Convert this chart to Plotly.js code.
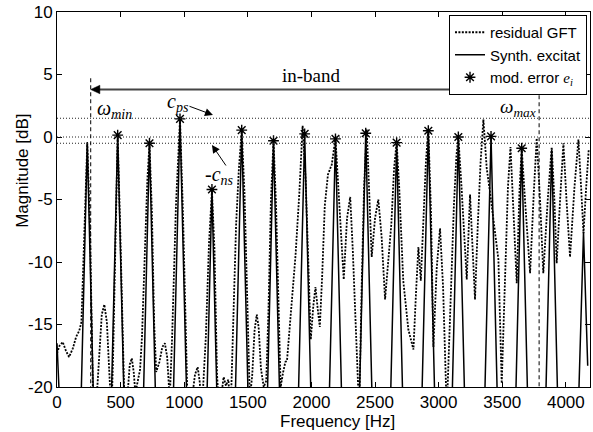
<!DOCTYPE html>
<html>
<head>
<meta charset="utf-8">
<script src="https://cdn.plot.ly/plotly-3.0.1.min.js"></script>
<style>
  html, body { margin: 0; padding: 0; background: #fff; }
  #chart { width: 593px; height: 432px; }
</style>
</head>
<body>
<div id="chart"></div>
<script>
// ---- data ----
const residualFreq = [0,20,45,70,95,125,150,175,192,215,238,260,285,305,330,352,372,392,412,428,440,458,477,496,518,532,552,572,588,603,616,634,653,668,690,710,727,746,764,780,805,828,848,866,886,905,935,967,990,1012,1028,1060,1085,1106,1122,1138,1170,1195,1218,1238,1258,1275,1292,1310,1328,1347,1365,1378,1392,1408,1430,1452,1474,1500,1516,1535,1553,1570,1585,1603,1625,1645,1662,1682,1702,1722,1742,1758,1778,1795,1808,1840,1875,1905,1931,1955,1975,1995,2015,2032,2050,2066,2085,2105,2130,2160,2189,2210,2235,2254,2280,2305,2325,2345,2360,2375,2395,2414,2435,2455,2474,2500,2526,2552,2579,2605,2628,2650,2670,2690,2722,2762,2802,2822,2841,2860,2880,2900,2919,2940,2959,2985,3011,3035,3064,3092,3120,3140,3155,3180,3205,3221,3247,3265,3286,3308,3330,3352,3378,3405,3438,3470,3496,3520,3545,3565,3588,3614,3635,3653,3682,3719,3748,3771,3797,3823,3858,3889,3910,3928,3955,3981,4005,4033,4068,4099,4120,4139,4160,4180];
const residualDb = [-17.3,-16.7,-16.4,-17.1,-17.6,-16.9,-16.0,-15.5,-14.8,-7,-0.5,-7.5,-22,-22,-17.5,-14.2,-13.4,-14.8,-19,-22,-18,-8,0.1,-7,-17,-22,-21,-18.2,-17.7,-18.8,-20.5,-19.4,-18.6,-16,-9,-3.5,-0.5,-6,-15,-18.8,-18,-16.8,-16.5,-17.6,-21,-16,-5.5,1.4,-6,-16,-22,-21,-19,-18.4,-19.6,-22,-16,-8.5,-4.3,-9,-19,-22,-20.5,-19.2,-19.9,-19.4,-22,-18,-13,-7,-2.5,0.5,-4.5,-14,-21,-19,-15.5,-14.2,-15.2,-18.5,-20,-19.5,-14,-5,-0.3,-5.5,-15,-20,-18.8,-18,-17.9,-14,-9.5,-4.5,0.9,-3.5,-10,-16.2,-13.5,-12,-13.8,-15.2,-11,-5.5,-3,-2.2,-0.1,-4,-8.5,-11.4,-6.5,-4.8,-9,-15,-19,-22,-12,-4,0.6,-4,-9.6,-6.5,-5,-8,-13,-9.8,-7,-2.5,-0.4,-4,-11.5,-15.4,-17,-12.5,-8.8,-11.5,-7,-2,0.6,-6,-16.8,-10.5,-7.3,-12,-22,-13,-5.5,-1.5,0,-4,-8.5,-11.4,-4.6,-8,-13,-7,-2,1.4,-2.5,-4.5,-7,-9.8,-19.7,-11,-4,-0.8,-5.5,-11.7,-4.5,-0.9,-5.5,-10.9,-4.5,-0.1,-5,-10.9,-5,-0.8,-5,-10.1,-5,-0.5,-5,-9.6,-4,-0.2,-4,-7.7,-4,-1];

const synthFreq = [0,58,168,238,308,406,477,548,658,727,796,893,967,1041,1157,1218,1279,1380,1452,1524,1632,1702,1772,1876,1947,2018,2119,2189,2259,2356,2427,2498,2601,2670,2739,2847,2919,2991,3085,3155,3226,3341,3412,3483,3585,3653,3721,3821,3889,3957,4075,4139,4172];
const synthDb = [-16.5,-30,-30,-0.4,-30,-30,0.15,-30,-30,-0.5,-30,-30,1.45,-30,-30,-4.2,-30,-30,0.55,-30,-30,-0.3,-30,-30,0.25,-30,-30,-0.15,-30,-30,0.3,-30,-30,-0.45,-30,-30,0.5,-30,-30,0.0,-30,-30,0.05,-30,-30,-0.9,-30,-30,-1.0,-30,-30,-7.6,-18.3];

const errFreq = [477,727,967,1218,1452,1702,1947,2189,2427,2670,2919,3155,3412,3653];
const errDb = [0.15,-0.5,1.45,-4.2,0.55,-0.3,0.25,-0.15,0.3,-0.45,0.5,0.0,0.05,-0.9];

const bandEdges = [265, 3790];   // omega_min, omega_max [Hz]
const bandArrowDb = 3.8;         // level of the in-band arrow [dB]
const cPs = 1.5;                 // c_ps [dB]
const cNs = 0.5;                 // c_ns [dB]

const xTickVals = [0,500,1000,1500,2000,2500,3000,3500,4000];
const xTickText = ['0','500','1000','1500','2000','2500','3000','3500','4000'];
const yTickVals = [-20,-15,-10,-5,0,5,10];
const yTickText = ['-20','-15','-10','-5','0','5','10'];

// ---- chart ----
const SANS = 'Liberation Sans, Arial, sans-serif';
const SERIF = 'Liberation Serif, Times New Roman, serif';
const xMax = 4190;

const traces = [
  { x: synthFreq, y: synthDb, type: 'scatter', mode: 'lines', name: 'Synth. excitat',
    line: { color: '#000', width: 1.5 }, legendrank: 2 },
  { x: residualFreq, y: residualDb, type: 'scatter', mode: 'lines', name: 'residual GFT',
    line: { color: '#000', width: 1.8, dash: '2px,1.4px' }, legendrank: 1 },
  { x: errFreq, y: errDb, type: 'scatter', mode: 'markers',
    name: 'mod. error <span style="font-family:Liberation Serif"><i>e<sub>i</sub></i></span>',
    marker: { symbol: 'asterisk-open', size: 9, color: '#000', line: { color: '#000', width: 1.4 } },
    legendrank: 3 }
];

const hLine = (y) => ({ type: 'line', xref: 'x', yref: 'y', x0: 0, x1: xMax, y0: y, y1: y,
  line: { color: '#222', width: 1, dash: '1px,2px' } });

// arrowhead triangles for the in-band double arrow (length in Hz, half-height in dB)
const headLen = 72, headHalf = 0.34;
const tri = (xTip, dir) => {
  const xb = xTip + dir * headLen;
  return { type: 'path', xref: 'x', yref: 'y',
    path: 'M' + xTip + ',' + bandArrowDb + ' L' + xb + ',' + (bandArrowDb + headHalf) +
          ' L' + xb + ',' + (bandArrowDb - headHalf) + ' Z',
    fillcolor: '#000', line: { color: '#000', width: 0.5 } };
};

const shapes = [
  hLine(cPs), hLine(0), hLine(-cNs),
  { type: 'line', xref: 'x', yref: 'y', x0: bandEdges[0], x1: bandEdges[0], y0: 4.7, y1: -20,
    line: { color: '#000', width: 1, dash: '4px,3px' } },
  { type: 'line', xref: 'x', yref: 'y', x0: bandEdges[1], x1: bandEdges[1], y0: 3.9, y1: -20,
    line: { color: '#000', width: 1, dash: '4px,3px' } },
  { type: 'line', xref: 'x', yref: 'y', x0: bandEdges[0] + headLen * 0.5, x1: bandEdges[1] - headLen * 0.5,
    y0: bandArrowDb, y1: bandArrowDb, line: { color: '#444', width: 1.8 } },
  tri(bandEdges[0], 1), tri(bandEdges[1], -1)
];

const serif = (s) => ({ family: SERIF, size: s, color: '#000' });

const annotations = [
  { xref: 'x', yref: 'y', x: 2000, y: 4.9, text: 'in-band', showarrow: false, font: serif(19) },
  { xref: 'x', yref: 'y', x: 300, y: 2.2, xanchor: 'left', yanchor: 'middle',
    text: '<i>ω<sub>min</sub></i>', showarrow: false, font: serif(20) },
  { xref: 'x', yref: 'y', x: 3781, y: 2.3, xanchor: 'right', yanchor: 'middle',
    text: '<i>ω<sub>max</sub></i>', showarrow: false, font: serif(19) },
  { xref: 'x', yref: 'y', x: 1226, y: 1.76, ax: 951, ay: 2.8, axref: 'x', ayref: 'y',
    text: '<i>c<sub>ps</sub></i>', font: serif(20), borderpad: 0,
    showarrow: true, arrowhead: 2, arrowsize: 1.6, arrowwidth: 1, arrowcolor: '#000', standoff: 0 },
  { xref: 'x', yref: 'y', x: 1148, y: -3.04, xanchor: 'left', yanchor: 'middle',
    text: '-<i>c<sub>ns</sub></i>', font: serif(20), showarrow: false },
  { xref: 'x', yref: 'y', x: 1218, y: -0.64, ax: 1336, ay: -2.4, axref: 'x', ayref: 'y',
    text: '', showarrow: true, arrowhead: 2, arrowsize: 1.6, arrowwidth: 1, arrowcolor: '#000', standoff: 0 },
  { xref: 'paper', yref: 'paper', x: 0.527, y: -0.0907, xanchor: 'center', yanchor: 'middle',
    text: 'Frequency [Hz]', showarrow: false, borderpad: 0, font: { family: SANS, size: 17, color: '#000' } },
  { xref: 'paper', yref: 'paper', x: -0.066, y: 0.576, xanchor: 'center', yanchor: 'middle', textangle: -90,
    text: 'Magnitude [dB]', showarrow: false, font: { family: SANS, size: 17, color: '#000' } }
];

const axisCommon = {
  showline: true, linecolor: '#000', linewidth: 1, mirror: 'ticks',
  ticks: 'inside', ticklen: 5, tickcolor: '#000', tickwidth: 1,
  showgrid: false, zeroline: false, tickfont: { family: SANS, size: 17, color: '#000' },
  tickmode: 'array'
};

const layout = {
  width: 593, height: 432,
  margin: { l: 57, r: 3, t: 12, b: 45 },
  paper_bgcolor: '#fff', plot_bgcolor: '#fff',
  font: { family: SANS, size: 15, color: '#000' },
  xaxis: Object.assign({}, axisCommon, { range: [0, xMax], tickvals: xTickVals, ticktext: xTickText }),
  yaxis: Object.assign({}, axisCommon, { range: [-20, 10], tickvals: yTickVals, ticktext: yTickText }),
  showlegend: true,
  legend: {
    x: 0.9944, y: 0.992, xanchor: 'right', yanchor: 'top',
    bgcolor: '#fff', bordercolor: '#000', borderwidth: 1,
    font: { family: SANS, size: 15, color: '#000' },
    itemwidth: 30, tracegroupgap: 0, traceorder: 'normal'
  },
  shapes: shapes,
  annotations: annotations
};

Plotly.newPlot('chart', traces, layout, { staticPlot: true, displayModeBar: false });
</script>
</body>
</html>
